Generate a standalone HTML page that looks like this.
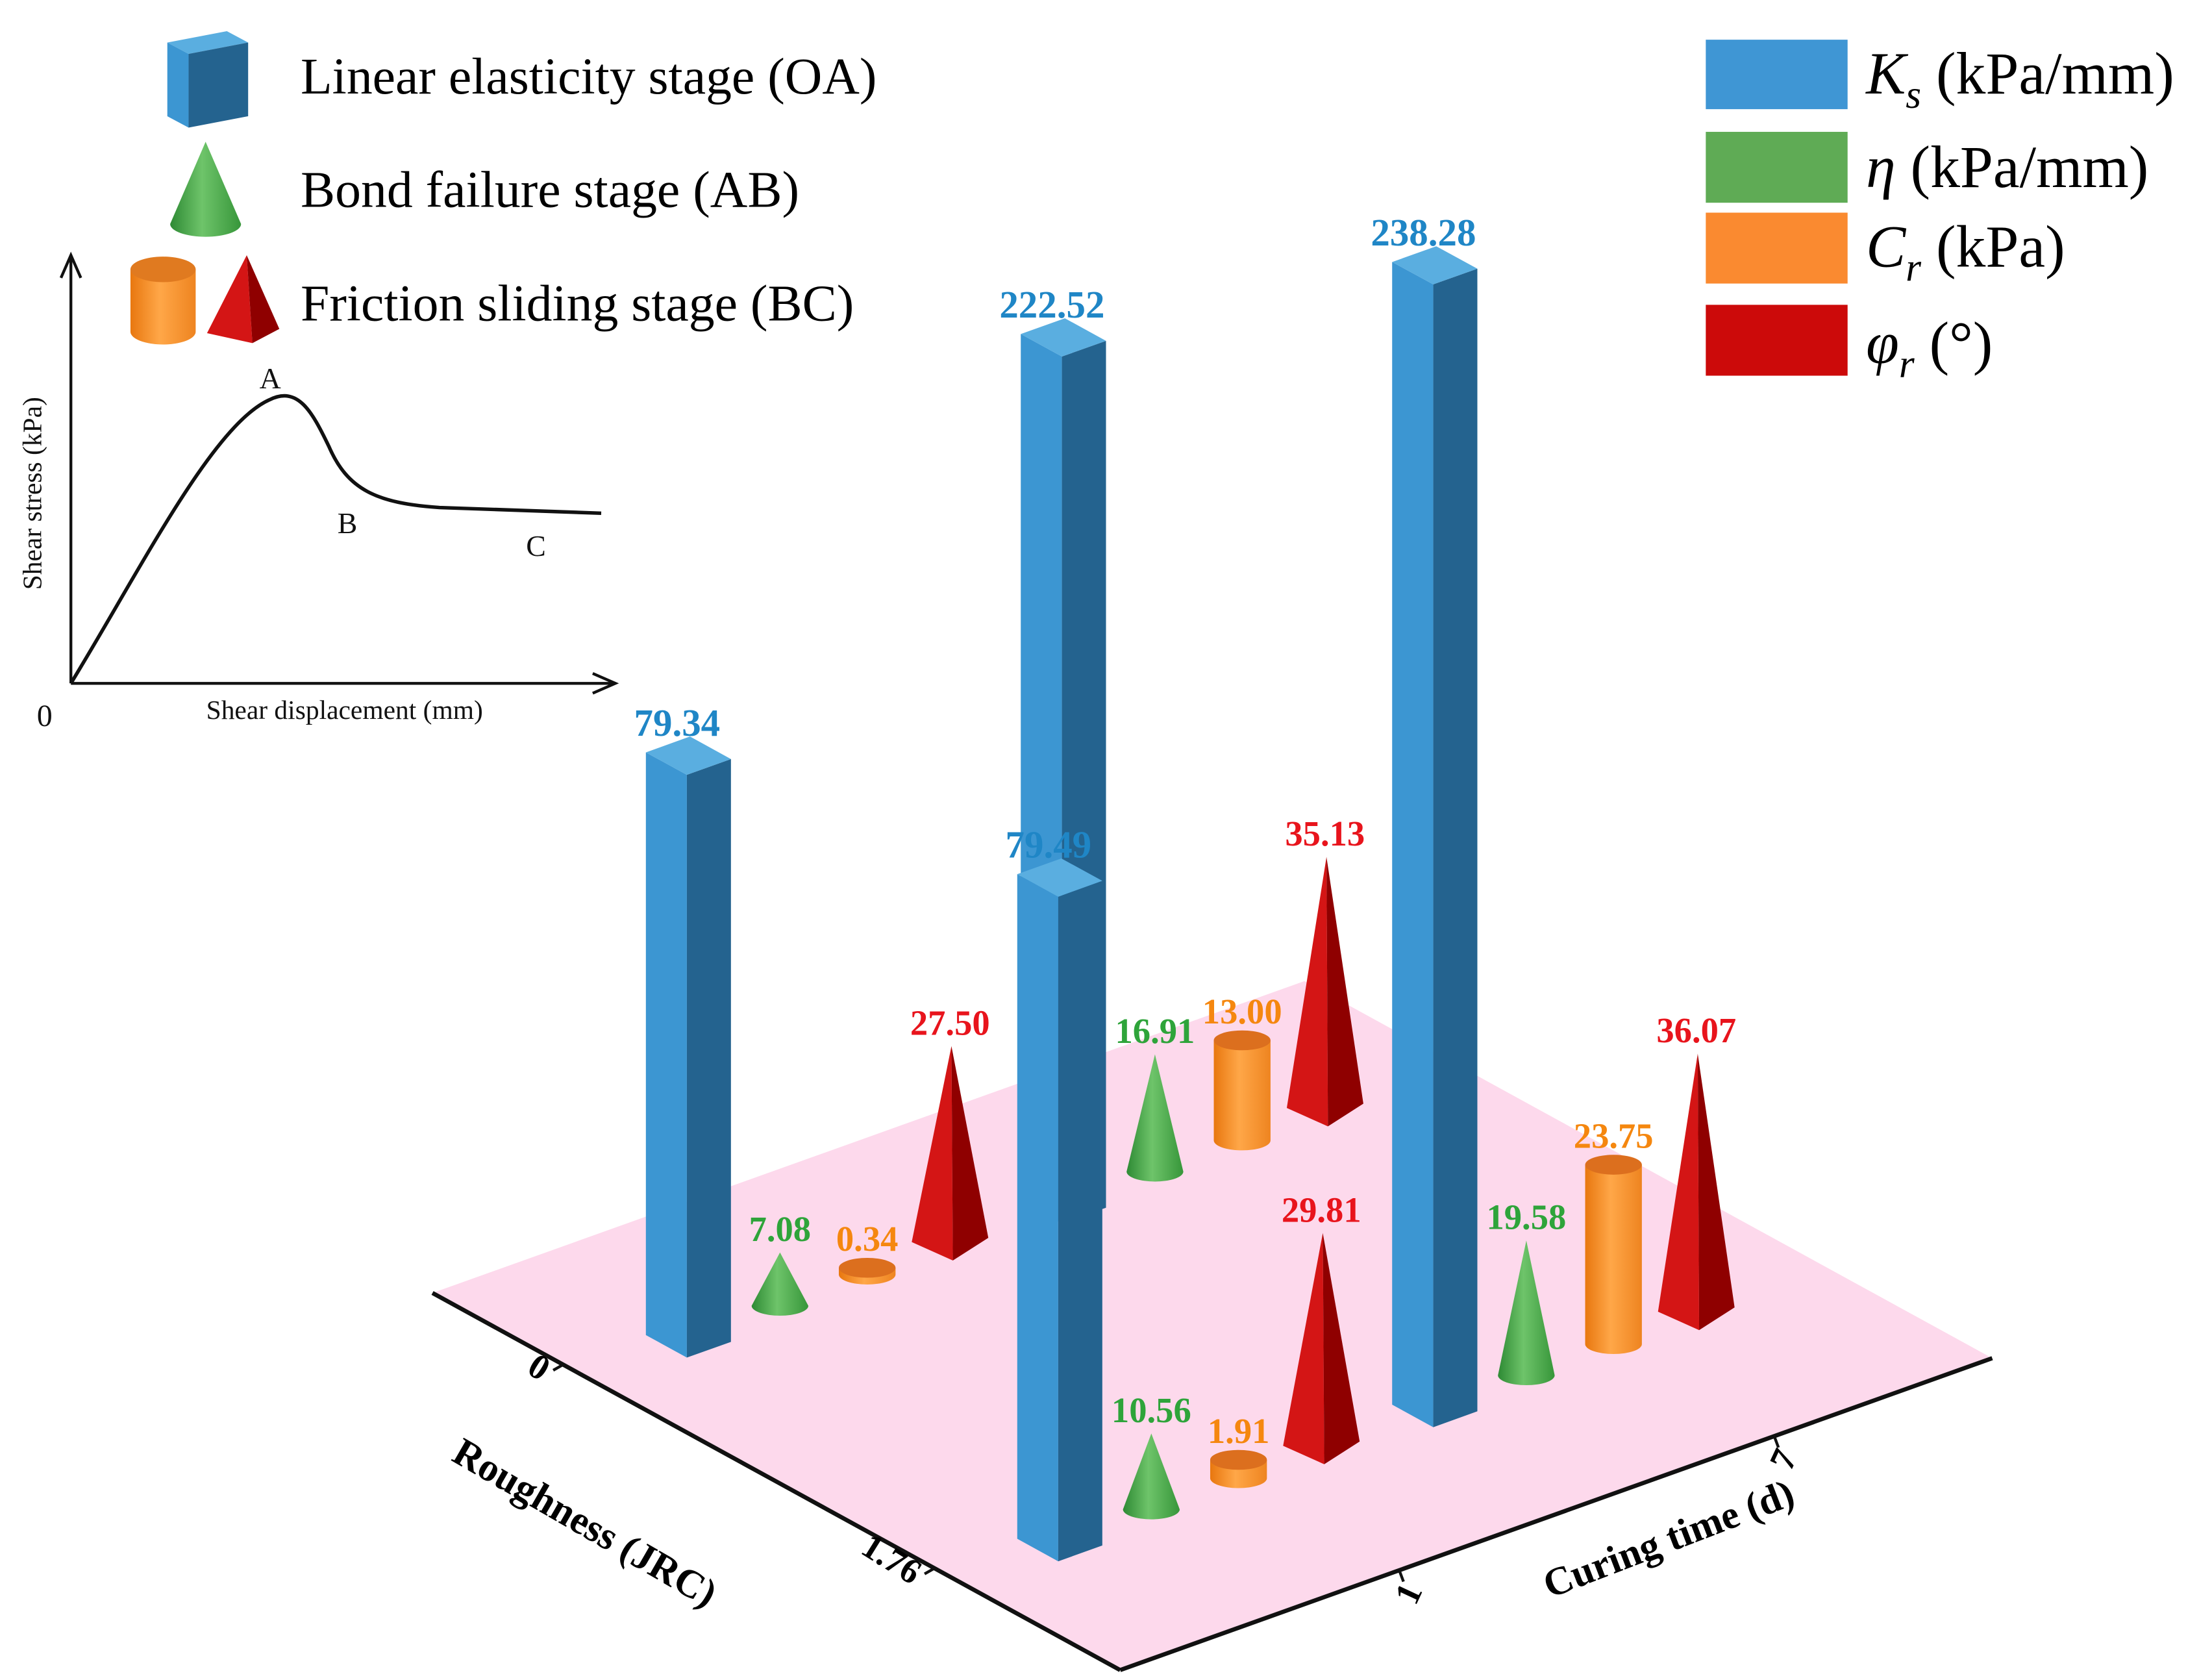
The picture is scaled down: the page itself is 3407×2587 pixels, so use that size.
<!DOCTYPE html>
<html><head><meta charset="utf-8">
<style>
html,body{margin:0;padding:0;background:#fff;}
svg{display:block;}
text{font-family:"Liberation Serif",serif;}
</style></head>
<body>
<svg id="chart" xmlns="http://www.w3.org/2000/svg" width="3407" height="2587" viewBox="0 0 1560 1185" preserveAspectRatio="none">
<defs>
<linearGradient id="gGreen" x1="0" x2="1" y1="0" y2="0"><stop offset="0" stop-color="#2e8a34"/><stop offset="0.45" stop-color="#6ec46a"/><stop offset="1" stop-color="#37963a"/></linearGradient>
<linearGradient id="gOrange" x1="0" x2="1" y1="0" y2="0"><stop offset="0" stop-color="#e8770f"/><stop offset="0.45" stop-color="#ffa748"/><stop offset="1" stop-color="#ee8420"/></linearGradient>
</defs>
<polygon points="305,912 920,692 1405,958 790,1178" fill="#fdd9ec"/>
<line x1="305" y1="912" x2="790" y2="1178" stroke="#111" stroke-width="3"/>
<line x1="790" y1="1178" x2="1405" y2="958" stroke="#111" stroke-width="3"/>
<g id="ticks"></g>
<g id="marks"></g>
<g id="labels"></g>
<text x="0" y="0" font-size="28" font-weight="bold" text-anchor="middle" transform="translate(408,1082) rotate(30)">Roughness (JRC)</text>
<text x="0" y="0" font-size="28" font-weight="bold" text-anchor="middle" transform="translate(1180,1094) rotate(-21)">Curing time (d)</text>

<g>
<polygon points="118,30 160,22 175,30 133,38" fill="#5aaee0"/>
<polygon points="118,30 133,38 133,90 118,82" fill="#3c96d2"/>
<polygon points="133,38 175,30 175,82 133,90" fill="#24638f"/>
<text x="212" y="66" font-size="36.5">Linear elasticity stage (OA)</text>
<path d="M120,158 L145,100 L170,158 A25,9 0 0 1 120,158 Z" fill="url(#gGreen)"/>
<text x="212" y="146" font-size="36.5">Bond failure stage (AB)</text>
<path d="M92,190 L92,234 A23,9 0 0 0 138,234 L138,190 Z" fill="url(#gOrange)"/>
<ellipse cx="115" cy="190" rx="23" ry="9" fill="#e07a20"/>
<polygon points="146,235 174,180 178,242" fill="#d41515"/>
<polygon points="178,242 174,180 197,232" fill="#8f0000"/>
<text x="212" y="226" font-size="36.5">Friction sliding stage (BC)</text>
</g>

<g fill="none" stroke="#111" stroke-width="2">
<line x1="50" y1="482" x2="50" y2="182"/>
<polyline points="43,196 50,180 57,196"/>
<line x1="50" y1="482" x2="432" y2="482"/>
<polyline points="418,475 434,482 418,489"/>
<path d="M50,482 C100,400 150,300 190,282 C210,272 220,290 232,315 C245,345 265,355 310,358 L424,362" stroke-width="2.5"/>
</g>
<g font-size="21" fill="#111">
<text x="183" y="274">A</text>
<text x="238" y="376">B</text>
<text x="371" y="392">C</text>
<text x="26" y="512" font-size="22">0</text>
<text x="243" y="507" font-size="19" text-anchor="middle">Shear displacement (mm)</text>
<text x="0" y="0" font-size="19" text-anchor="middle" transform="translate(29,348) rotate(-90)">Shear stress (kPa)</text>
</g>

<g>
<rect x="1203" y="28" width="100" height="49" fill="#3f96d4"/>
<text x="1316" y="66" font-size="42"><tspan font-style="italic">K</tspan><tspan font-style="italic" font-size="28" dy="10">s</tspan><tspan dy="-10"> (kPa/mm)</tspan></text>
<rect x="1203" y="93" width="100" height="50" fill="#5fab55"/>
<text x="1316" y="132" font-size="42"><tspan font-style="italic">η</tspan> (kPa/mm)</text>
<rect x="1203" y="150" width="100" height="50" fill="#fa8a30"/>
<text x="1316" y="188" font-size="42"><tspan font-style="italic">C</tspan><tspan font-style="italic" font-size="28" dy="10">r</tspan><tspan dy="-10"> (kPa)</tspan></text>
<rect x="1203" y="215" width="100" height="50" fill="#cc0a0a"/>
<text x="1316" y="256" font-size="42"><tspan font-style="italic">φ</tspan><tspan font-style="italic" font-size="28" dy="10">r</tspan><tspan dy="-10"> (°)</tspan></text>
</g>
</svg>
<script>
const roughLabels = ['0', '1.76'];
const timeLabels = ['1', '7'];
// order: (JRC0,t1), (JRC0,t7), (JRC1.76,t1), (JRC1.76,t7)
const ksValues = [79.34, 222.52, 79.49, 238.28];
const etaValues = [7.08, 16.91, 10.56, 19.58];
const crValues = [0.34, 13.00, 1.91, 23.75];
const phiValues = [27.50, 35.13, 29.81, 36.07];

const NS = 'http://www.w3.org/2000/svg';
const O = [305, 912], U = [485, 266], V = [615, -220];
const rowPos = [0.22, 0.76], colPos = [0.12, 0.55], itemOff = [0, 0.105, 0.205, 0.30];
function proj(a, b) { return [O[0] + a * U[0] + b * V[0], O[1] + a * U[1] + b * V[1]]; }
function ksH(v, a) { return 300 + (1.4 + (a - 0.22) * 1.34) * v; }
function etaH(v) { return 4.6 * v + 5; }
function crH(v) { return 5.2 * v + 3; }
function phiH(v) { return 5.1 * v; }
function mk(tag, attrs, parent) { const e = document.createElementNS(NS, tag); for (const k in attrs) e.setAttribute(k, attrs[k]); parent.appendChild(e); return e; }
function pts(arr) { return arr.map(p => p[0].toFixed(1) + ',' + p[1].toFixed(1)).join(' '); }

const marks = document.getElementById('marks');
const labels = document.getElementById('labels');
const ticks = document.getElementById('ticks');
const items = [];
for (let r = 0; r < 2; r++) for (let t = 0; t < 2; t++) {
  const i = r * 2 + t, a = rowPos[r];
  [['ks', ksValues[i]], ['eta', etaValues[i]], ['cr', crValues[i]], ['phi', phiValues[i]]].forEach((s, k) => {
    const c = proj(a, colPos[t] + itemOff[k]);
    items.push({ type: s[0], v: s[1], c: c, a: a });
  });
}
items.sort((p, q) => p.c[1] - q.c[1]);
const colors = { ks: '#1f86c6', eta: '#2ea43a', cr: '#f5870f', phi: '#e8141c' };
items.forEach(it => {
  const c = it.c; let topY, fs = 25;
  const g = mk('g', {}, marks);
  
  
  if (it.type === 'ks') {
    const h = ksH(it.v, it.a), s = 16.5;
    const u = [0.877 * s, 0.481 * s], w = [0.942 * s, -0.337 * s];
    const P = (su, sw, dh) => [c[0] + su * u[0] + sw * w[0], c[1] + su * u[1] + sw * w[1] - dh];
    mk('polygon', { points: pts([P(-1, -1, 0), P(1, -1, 0), P(1, -1, h), P(-1, -1, h)]), fill: '#3c96d2' }, g);
    mk('polygon', { points: pts([P(1, -1, 0), P(1, 1, 0), P(1, 1, h), P(1, -1, h)]), fill: '#24638f' }, g);
    mk('polygon', { points: pts([P(-1, -1, h), P(1, -1, h), P(1, 1, h), P(-1, 1, h)]), fill: '#5aaee0' }, g);
    topY = c[1] - h - 14; fs = 27;
  } else if (it.type === 'eta') {
    const h = etaH(it.v), rx = 20, ry = 7;
    mk('path', { d: `M${c[0] - rx},${c[1]} L${c[0]},${c[1] - h} L${c[0] + rx},${c[1]} A${rx},${ry} 0 0 1 ${c[0] - rx},${c[1]} Z`, fill: 'url(#gGreen)' }, g);
    topY = c[1] - h - 8;
  } else if (it.type === 'cr') {
    const h = crH(it.v), rx = 20, ry = 7;
    mk('path', { d: `M${c[0] - rx},${c[1] - h} L${c[0] - rx},${c[1]} A${rx},${ry} 0 0 0 ${c[0] + rx},${c[1]} L${c[0] + rx},${c[1] - h} Z`, fill: 'url(#gOrange)' }, g);
    mk('ellipse', { cx: c[0], cy: c[1] - h, rx: rx, ry: ry, fill: '#dc6f1e' }, g);
    topY = c[1] - h - 12;
  } else {
    const h = phiH(it.v);
    const L = [c[0] - 27, c[1] - 2], F = [c[0] + 2, c[1] + 11], R = [c[0] + 27, c[1] - 5], A = [c[0] + 1, c[1] - h];
    mk('polygon', { points: pts([L, F, A]), fill: '#d41515' }, g);
    mk('polygon', { points: pts([F, R, A]), fill: '#8f0000' }, g);
    topY = c[1] - h - 8;
  }
  const tx = mk('text', { x: c[0] - (it.type === 'ks' ? 8 : 0), y: topY, 'font-size': fs, 'font-weight': 'bold', 'text-anchor': 'middle', fill: colors[it.type] }, labels);
  
  
  tx.textContent = it.v.toFixed(2);
});
rowPos.forEach((a, i) => {
  const p = [O[0] + (a - 0.03) * U[0], O[1] + (a - 0.03) * U[1]];
  const ln = mk('line', { x1: p[0], y1: p[1], x2: p[0] - 7, y2: p[1] + 4, stroke: '#111', 'stroke-width': 2 }, ticks);
  
  
  const tx = mk('text', { x: 0, y: 0, 'font-size': 25, 'font-weight': 'bold', 'text-anchor': 'end', transform: `translate(${p[0] - 16},${p[1] + 12}) rotate(32)` }, ticks);
  
  
  tx.textContent = roughLabels[i];
});
colPos.forEach((b, i) => {
  const p = [O[0] + U[0] + (b + 0.2) * V[0], O[1] + U[1] + (b + 0.2) * V[1]];
  const ln = mk('line', { x1: p[0], y1: p[1], x2: p[0] + 3, y2: p[1] + 8, stroke: '#111', 'stroke-width': 2 }, ticks);
  
  
  const tx = mk('text', { x: 0, y: 0, 'font-size': 25, 'font-weight': 'bold', 'text-anchor': 'middle', transform: `translate(${p[0] + 14},${p[1] + 20}) rotate(-65)` }, ticks);
  
  
  tx.textContent = timeLabels[i];
});
</script>
</body></html>
